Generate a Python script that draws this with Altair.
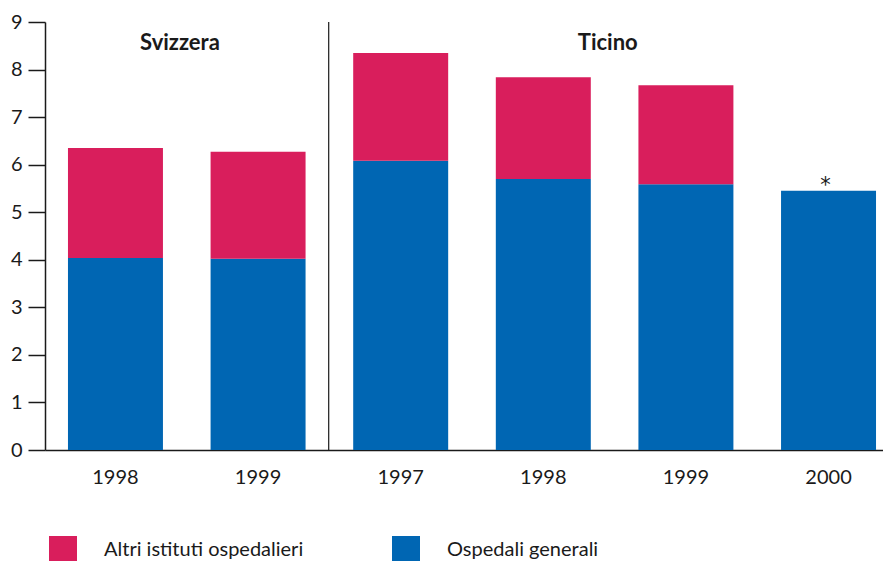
import altair as alt
import pandas as pd

groups = ["Svizzera", "Svizzera", "Ticino", "Ticino", "Ticino", "Ticino"]
years = ["1998", "1999", "1997", "1998", "1999", "2000"]
ospedali_generali = [4.04, 4.02, 6.08, 5.70, 5.59, 5.45]
altri_istituti = [2.31, 2.25, 2.27, 2.14, 2.08, None]
notes = ["", "", "", "", "", "*"]
series = ["Altri istituti ospedalieri", "Ospedali generali"]
colors = ["#D91E5C", "#0066B3"]
group_names = ["Svizzera", "Ticino"]
group_anchor = ["Svizzera 1998", "Ticino 1998"]

keys = [f"{g} {y}" for g, y in zip(groups, years)]

rows = []
for k, og, al in zip(keys, ospedali_generali, altri_istituti):
    rows.append({"key": k, "serie": series[1], "value": og, "ord": 0})
    if al is not None:
        rows.append({"key": k, "serie": series[0], "value": al, "ord": 1})
bars_df = pd.DataFrame(rows)

notes_df = pd.DataFrame({"key": keys, "value": ospedali_generali, "note": notes})
notes_df = notes_df[notes_df["note"] != ""]

sep_df = pd.DataFrame({"key": ["Ticino 1997"], "y0": [0], "y1": [9]})
grp_df = pd.DataFrame({"key": group_anchor, "name": group_names, "yy": [8.41, 8.41]})

FONT = "Lato"
INK = "#1a1a1a"

x_enc = alt.X(
    "key:N",
    sort=keys,
    scale=alt.Scale(paddingInner=0.334, paddingOuter=0.105, align=0.767),
    axis=alt.Axis(
        title=None,
        labelExpr="split(datum.value, ' ')[1]",
        labelAngle=0,
        ticks=False,
        labelPadding=17,
        labelFontSize=20,
        labelFont=FONT,
        labelColor=INK,
        domainColor=INK,
        domainWidth=1.5,
        grid=False,
    ),
)

bars = alt.Chart(bars_df).mark_bar().encode(
    x=x_enc,
    y=alt.Y(
        "value:Q",
        stack="zero",
        scale=alt.Scale(domain=[0, 9], nice=False),
        axis=alt.Axis(
            title=None,
            values=list(range(10)),
            tickSize=17,
            tickWidth=1.5,
            tickColor=INK,
            domainColor=INK,
            domainWidth=1.5,
            labelPadding=6,
            labelFontSize=20,
            labelFont=FONT,
            labelColor=INK,
            gridColor="white",
            gridWidth=1.5,
        ),
    ),
    color=alt.Color(
        "serie:N",
        scale=alt.Scale(domain=series, range=colors),
        legend=alt.Legend(
            title=None,
            orient="none",
            legendX=4,
            legendY=514,
            direction="horizontal",
            symbolType="square",
            symbolSize=784,
            symbolStrokeWidth=0,
            symbolOpacity=1,
            labelFontSize=20,
            labelFont=FONT,
            labelColor=INK,
            labelOffset=27,
            columnPadding=88,
            labelLimit=400,
        ),
    ),
    order=alt.Order("ord:Q", sort="ascending"),
)

sep = alt.Chart(sep_df).mark_rule(color=INK, strokeWidth=1.2, xOffset=-24.5).encode(
    x=alt.X("key:N", sort=keys, bandPosition=0),
    y=alt.Y("y0:Q"),
    y2="y1:Q",
)

grp = alt.Chart(grp_df).mark_text(
    font=FONT, fontSize=22, fontWeight="bold", color=INK, baseline="alphabetic", xOffset=17
).encode(
    x=alt.X("key:N", sort=keys, bandPosition=1),
    y=alt.Y("yy:Q"),
    text="name:N",
)

ast = alt.Chart(notes_df).mark_text(
    font="DejaVu Sans", fontSize=21, color=INK, baseline="alphabetic", dy=1, dx=-3
).encode(
    x=alt.X("key:N", sort=keys, bandPosition=0.5),
    y=alt.Y("value:Q"),
    text="note:N",
)

chart = (
    alt.layer(bars, sep, grp, ast)
    .properties(
        width=838,
        height=428,
        autosize=alt.AutoSizeParams(type="none"),
        padding={"left": 37, "top": 14, "right": 0, "bottom": 120},
    )
    .configure_view(fill="#D8D8D3", stroke=None)
    .configure(background="white")
)

chart.save("out.html", embed_options={"renderer": "svg", "actions": False})
